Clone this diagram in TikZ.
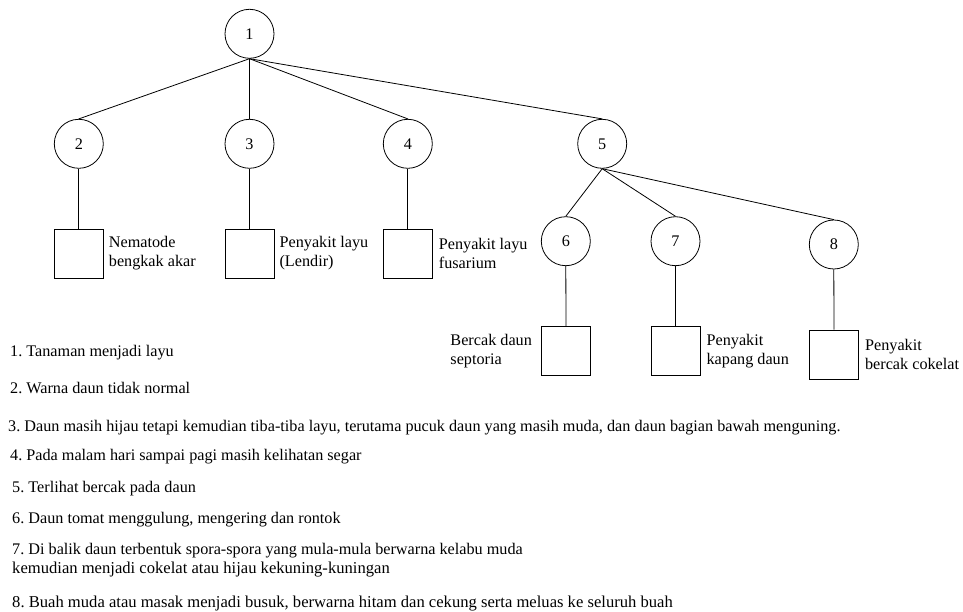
\documentclass[tikz,border=0pt]{standalone}
\usepackage{fontspec}
\setmainfont{Liberation Serif}
\usetikzlibrary{positioning}
\begin{document}
\frenchspacing
\begin{tikzpicture}[x=1pt,y=-1pt,
  every node/.style={font=\fontsize{16.2}{19}\selectfont},
  symptom/.style={circle,draw,line width=0.8pt,minimum size=49pt,inner sep=0pt},
  disease/.style={rectangle,draw,line width=0.8pt,minimum size=49pt,inner sep=0pt},
  tag/.style={inner sep=0pt,align=left},
  link/.style={line width=0.8pt},
  note/.style={anchor=base west,inner sep=0pt},
  widenote/.style={note,font=\fontsize{16.6}{19}\selectfont}]
\useasboundingbox (0,0) rectangle (963,612);

% symptom nodes
\node[symptom] (n1) at (249.5,33.8) {1};
\node[symptom] (n2) at (78.8,143.8) {2};
\node[symptom] (n3) at (249.5,143.8) {3};
\node[symptom] (n4) at (407.8,143.8) {4};
\node[symptom] (n5) at (602.2,143.8) {5};
\node[symptom] (n6) at (565.8,241.2) {6};
\node[symptom] (n7) at (675.5,241.2) {7};
\node[symptom] (n8) at (833.8,244.5) {8};

% disease boxes
\node[disease] (d2) at (78.8,253.5) {};
\node[disease] (d3) at (249.5,253.5) {};
\node[disease] (d4) at (407.8,253.5) {};
\node[disease] (d6) at (566,351.2) {};
\node[disease] (d7) at (675.5,351.2) {};
\node[disease] (d8) at (834,354.5) {};

% disease names
\node[tag,anchor=west] (t2) at ([xshift=5pt]d2.east) {Nematode\\bengkak akar};
\node[tag,anchor=west] (t3) at ([xshift=5pt]d3.east) {Penyakit layu\\(Lendir)};
\node[tag,anchor=west] (t4) at ([xshift=6pt]d4.east) {Penyakit layu\\fusarium};
\node[tag,anchor=east] (t6) at ([xshift=-9pt]d6.west) {Bercak daun\\septoria};
\node[tag,anchor=west] (t7) at ([xshift=6pt]d7.east) {Penyakit\\kapang daun};
\node[tag,anchor=west] (t8) at ([xshift=6pt]d8.east) {Penyakit\\bercak cokelat};

% tree edges
\foreach \c in {n2,n3,n4,n5} \draw[link] (n1.south) -- (\c.north);
\foreach \c in {n6,n7,n8} \draw[link] (n5.south) -- (\c.north);
\foreach \a/\b in {n2/d2,n3/d3,n4/d4,n6/d6,n7/d7,n8/d8} \draw[link] (\a.south) -- (\b.north);

% legend
\node[note] (l1) at (10,356) {1. Tanaman menjadi layu};
\node[note] (l2) at (10,393) {2. Warna daun tidak normal};
\node[note] (l3) at (8,431) {3. Daun masih hijau tetapi kemudian tiba-tiba layu, terutama pucuk daun yang masih muda, dan daun bagian bawah menguning.};
\node[note] (l4) at (10,460) {4. Pada malam hari sampai pagi masih kelihatan segar};
\node[note] (l5) at (12,492) {5. Terlihat bercak pada daun};
\node[note] (l6) at (12,523) {6. Daun tomat menggulung, mengering dan rontok};
\node[note] (l7a) at (12,554) {7. Di balik daun terbentuk spora-spora yang mula-mula berwarna kelabu muda};
\node[widenote] (l7b) at (12,573) {kemudian menjadi cokelat atau hijau kekuning-kuningan};
\node[widenote] (l8) at (12,607) {8. Buah muda atau masak menjadi busuk, berwarna hitam dan cekung serta meluas ke seluruh buah};
\end{tikzpicture}
\end{document}
